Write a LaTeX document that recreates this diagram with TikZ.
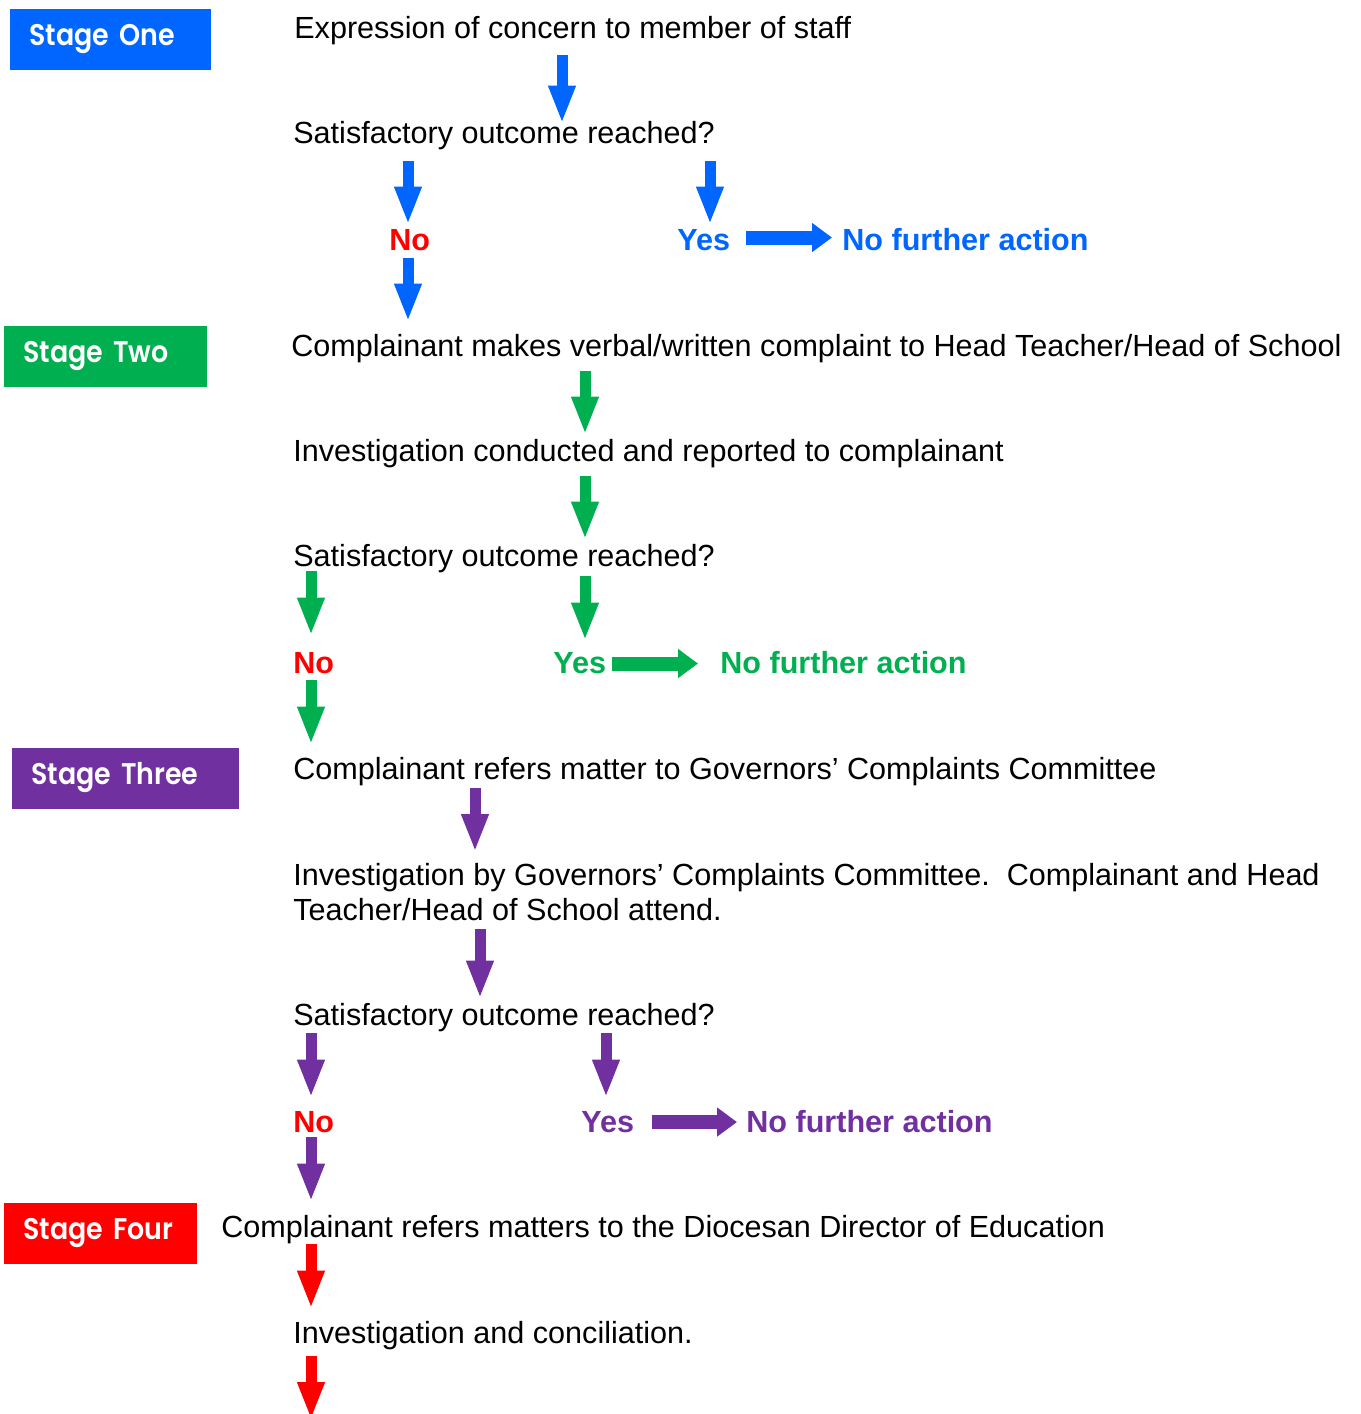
\documentclass[tikz,border=0pt]{standalone}
\usepackage{fontspec}
\setmainfont{Liberation Sans}
\newfontfamily\stagefont{Poppins SemiBold}[FakeStretch=0.9]
\usetikzlibrary{arrows.meta}
\definecolor{stageblue}{HTML}{0066FF}
\definecolor{stagegreen}{HTML}{00B050}
\definecolor{stagepurple}{HTML}{7030A0}
\definecolor{stagered}{HTML}{FF0000}

\begin{document}
\begin{tikzpicture}[x=0.02cm,y=-0.02cm]
\tikzstyle{txt} = [anchor=base west,inner sep=0,text height=12pt,text depth=3.5pt,font=\fontsize{17.4}{19.8}\selectfont]
\tikzstyle{para} = [anchor=north west,inner sep=0,align=left,font=\fontsize{17.4}{19.8}\selectfont]
\tikzstyle{ans} = [txt,font=\fontsize{17.4}{19.8}\selectfont\bfseries]
\tikzstyle{stage} = [anchor=north west,inner xsep=3.8mm,inner ysep=0,minimum height=12.2mm,align=left,text=white,text height=11.9pt,text depth=5.1pt,font=\stagefont\fontsize{17}{20}\selectfont]
\tikzstyle{down} = [line width=2.2mm,-{Triangle[width=5mm,length=7.6mm]}]
\tikzstyle{across} = [line width=2.8mm,-{Triangle[width=5.6mm,length=4mm]}]

\useasboundingbox (0,0) rectangle (1360,1414);

% stages
\node[stage,fill=stageblue,text width=32.6mm] (S1) at (10,9) {Stage One};
\node[stage,fill=stagegreen,text width=33mm] (S2) at (4,326) {Stage Two};
\node[stage,fill=stagepurple,text width=37.8mm] (S3) at (12,748) {Stage Three};
\node[stage,fill=stagered,text width=31mm] (S4) at (4,1203) {Stage Four};

% nodes
\node[txt] (E1) at (294,38) {Expression of concern to member of staff};
\node[txt] (Q1) at (293,143) {Satisfactory outcome reached?};
\node[ans,text=stagered] (N1) at (389,250) {No};
\node[ans,text=stageblue] (Y1) at (677,250) {Yes};
\node[ans,text=stageblue] (F1) at (842,250) {No further action};

\node[txt] (C2) at (291,356) {Complainant makes verbal/written complaint to Head Teacher/Head of School};
\node[txt] (I2) at (293,461) {Investigation conducted and reported to complainant};
\node[txt] (Q2) at (293,566) {Satisfactory outcome reached?};
\node[ans,text=stagered] (N2) at (293,673) {No};
\node[ans,text=stagegreen] (Y2) at (553,673) {Yes};
\node[ans,text=stagegreen] (F2) at (720,673) {No further action};

\node[txt] (C3) at (293,779) {Complainant refers matter to Governors’ Complaints Committee};
\node[para] (I3) at (293,863) {Investigation by Governors’ Complaints Committee.\ \ Complainant and Head\\Teacher/Head of School attend.};
\node[txt] (Q3) at (293,1025) {Satisfactory outcome reached?};
\node[ans,text=stagered] (N3) at (293,1132) {No};
\node[ans,text=stagepurple] (Y3) at (581,1132) {Yes};
\node[ans,text=stagepurple] (F3) at (746,1132) {No further action};

\node[txt] (C4) at (221,1237) {Complainant refers matters to the Diocesan Director of Education};
\node[txt] (I4) at (293,1343) {Investigation and conciliation.};
\coordinate (Z) at (311,1420);

% arrows
\draw[down,stageblue,shorten <=2mm,shorten >=-0.4mm] (562,0 |- E1.south) -- (562,0 |- Q1.north);
\draw[down,stageblue,shorten <=2.2mm,shorten >=0.8mm] (408,0 |- Q1.south) -- (408,0 |- N1.north);
\draw[down,stageblue,shorten <=2.2mm,shorten >=0.8mm] (710,0 |- Q1.south) -- (710,0 |- Y1.north);
\draw[across,stageblue,shorten <=3.2mm,shorten >=2mm] ([yshift=1mm]Y1.east) -- ([yshift=1mm]F1.west);
\draw[down,stageblue,shorten <=0.2mm,shorten >=2.6mm] (408,0 |- N1.south) -- (408,0 |- C2.north);

\draw[down,stagegreen,shorten <=1.6mm,shorten >=1mm] (585,0 |- C2.south) -- (585,0 |- I2.north);
\draw[down,stagegreen,shorten <=1.6mm,shorten >=1mm] (585,0 |- I2.south) -- (585,0 |- Q2.north);
\draw[down,stagegreen,shorten <=-0.4mm,shorten >=3.2mm] (311,0 |- Q2.south) -- (311,0 |- N2.north);
\draw[down,stagegreen,shorten <=0.6mm,shorten >=2.2mm] (585,0 |- Q2.south) -- (585,0 |- Y2.north);
\draw[across,stagegreen,shorten <=1.2mm,shorten >=4.4mm] ([yshift=0.4mm]Y2.east) -- ([yshift=0.4mm]F2.west);
\draw[down,stagegreen,shorten >=2.6mm] (311,0 |- N2.south) -- (311,0 |- C3.north);

\draw[down,stagepurple,shorten <=0.4mm,shorten >=2.2mm] (475,0 |- C3.south) -- (475,0 |- I3.north);
\draw[down,stagepurple,shorten <=1.6mm,shorten >=1mm] (480,0 |- I3.south) -- (480,0 |- Q3.north);
\draw[down,stagepurple,shorten <=0.2mm,shorten >=2.6mm] (311,0 |- Q3.south) -- (311,0 |- N3.north);
\draw[down,stagepurple,shorten <=0.2mm,shorten >=2.6mm] (606,0 |- Q3.south) -- (606,0 |- Y3.north);
\draw[across,stagepurple,shorten <=3.6mm,shorten >=1.8mm] ([yshift=0.5mm]Y3.east) -- ([yshift=0.5mm]F3.west);
\draw[down,stagepurple,shorten <=-0.4mm,shorten >=2.8mm] (311,0 |- N3.south) -- (311,0 |- C4.north);

\draw[down,stagered,shorten >=2.6mm] (311,0 |- C4.south) -- (311,0 |- I4.north);
\draw[down,stagered,shorten <=1.2mm] (311,0 |- I4.south) -- (Z);

\end{tikzpicture}
\end{document}
